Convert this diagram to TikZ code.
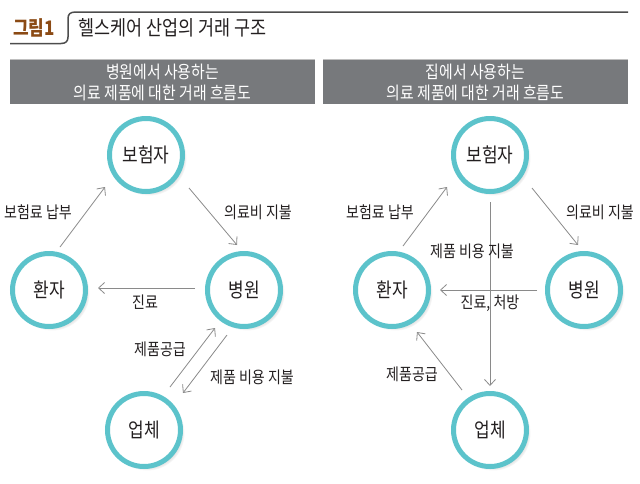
\documentclass[tikz,border=0pt]{standalone}
\usepackage{fontspec}
\setmainfont[FakeStretch=0.85]{Noto Sans CJK KR}
\usetikzlibrary{arrows.meta,shadows}
\definecolor{ring}{HTML}{5CC3CB}
\definecolor{hdr}{HTML}{77797C}
\definecolor{arr}{HTML}{8A8A8A}
\definecolor{brn}{HTML}{8B4A14}
\definecolor{txt}{HTML}{231F20}
\definecolor{rule}{HTML}{4D4D4D}
\tikzset{
 party/.style={circle, draw=ring, line width=5pt, fill=white, minimum size=73pt, inner sep=0pt,
   font=\fontsize{20}{20}\selectfont, text=txt,
   circular drop shadow={shadow xshift=3pt, shadow yshift=-3pt, opacity=0.35, shadow scale=1.03}},
 flow/.style={draw=arr, line width=0.8pt, -{Straight Barb[length=6pt,width=11pt,line width=0.8pt]}},
 lbl/.style={font=\fontsize{16.5}{16.5}\selectfont, text=txt, inner sep=0pt},
 hdrtxt/.style={font=\fontsize{17.5}{21}\selectfont, text=white, align=center, inner sep=0pt},
}
\begin{document}
\begin{tikzpicture}[x=1pt,y=-1pt]
\useasboundingbox (0,0) rectangle (640,483);
% title
\draw[rule, line width=1.5pt] (10,43.5) -- (61,43.5) .. controls (66,43.5) and (68,41) .. (68,37) -- (68,19) .. controls (68,14) and (70,12) .. (76,12) -- (628,12);
\node[font=\fontsize{20}{20}\selectfont\bfseries, text=brn, inner sep=0pt] (fig) at (34,28) {그림1};
\node[font=\fontsize{20.5}{20.5}\selectfont, text=txt, anchor=west, inner sep=0pt] (ttl) at (78,28) {헬스케어 산업의 거래 구조};
% header boxes
\fill[hdr] (10,60) rectangle (315,104);
\fill[hdr] (323,60) rectangle (628,104);
\draw[gray!50, line width=0.8pt] (10,59.5) -- (315,59.5) (323,59.5) -- (628,59.5);
\node[hdrtxt] (hl) at (162.5,82.5) {병원에서 사용하는\\의료 제품에 대한 거래 흐름도};
\node[hdrtxt] (hr) at (475.5,82.5) {집에서 사용하는\\의료 제품에 대한 거래 흐름도};
% left diagram
\node[party] (bL) at (146,155) {보험자};
\node[party] (pL) at (49,290) {환자};
\node[party] (hL) at (244,290) {병원};
\node[party] (cL) at (144,430) {업체};
\coordinate (a1) at (60,247); \coordinate (a2) at (105,187);
\coordinate (b1) at (189,188); \coordinate (b2) at (237,245);
\coordinate (c1) at (195,288); \coordinate (c2) at (98,288);
\coordinate (d1) at (170,387); \coordinate (d2) at (215,328);
\coordinate (e1) at (227,335); \coordinate (e2) at (183,393);
\draw[flow] (a1) -- (a2);
\draw[flow] (b1) -- (b2);
\draw[flow] (c1) -- (c2);
\draw[flow] (d1) -- (d2);
\draw[flow] (e1) -- (e2);
\node[lbl] (la) at (38,212) {보험료 납부};
\node[lbl] (lb) at (258,212) {의료비 지불};
\node[lbl] (lc) at (145,302) {진료};
\node[lbl] (ld) at (160,349) {제품공급};
\node[lbl] (le) at (252,377) {제품 비용 지불};
% right diagram
\node[party] (bR) at (490,155) {보험자};
\node[party] (pR) at (392,290) {환자};
\node[party] (hR) at (584,290) {병원};
\node[party] (cR) at (490,430) {업체};
\coordinate (f1) at (403,246); \coordinate (f2) at (447,187);
\coordinate (g1) at (532,188); \coordinate (g2) at (578,245);
\coordinate (h1) at (537,290); \coordinate (h2) at (440,290);
\coordinate (i1) at (490,202); \coordinate (i2) at (490,386);
\coordinate (j1) at (462,390); \coordinate (j2) at (417,332);
\draw[flow] (f1) -- (f2);
\draw[flow] (g1) -- (g2);
\draw[flow] (h1) -- (h2);
\draw[flow] (i1) -- (i2);
\draw[flow] (j1) -- (j2);
\node[lbl] (lf) at (380,212) {보험료 납부};
\node[lbl] (lg) at (600,212) {의료비 지불};
\node[lbl] (li) at (472,251) {제품 비용 지불};
\node[lbl] (lh) at (490,303) {진료, 처방};
\node[lbl] (lj) at (412,374) {제품공급};
\end{tikzpicture}
\end{document}
